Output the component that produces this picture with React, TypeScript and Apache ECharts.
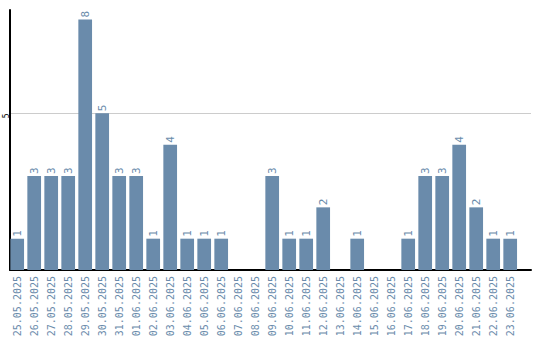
import React, { useEffect, useRef } from "react";
import * as echarts from "echarts";

const categories = [
  "25.05.2025", "26.05.2025", "27.05.2025", "28.05.2025", "29.05.2025", "30.05.2025",
  "31.05.2025", "01.06.2025", "02.06.2025", "03.06.2025", "04.06.2025", "05.06.2025",
  "06.06.2025", "07.06.2025", "08.06.2025", "09.06.2025", "10.06.2025", "11.06.2025",
  "12.06.2025", "13.06.2025", "14.06.2025", "15.06.2025", "16.06.2025", "17.06.2025",
  "18.06.2025", "19.06.2025", "20.06.2025", "21.06.2025", "22.06.2025", "23.06.2025",
];
const values = [1, 3, 3, 3, 8, 5, 3, 3, 1, 4, 1, 1, 1, 0, 0, 3, 1, 1, 2, 0, 1, 0, 0, 1, 3, 3, 4, 2, 1, 1];
const yMax = 8.3;

const BLUE = "#6a8bab";
const FONT = "DejaVu Sans Mono";

export default function App() {
  const ref = useRef<HTMLDivElement>(null);
  useEffect(() => {
    const chart = echarts.init(ref.current!, null, { renderer: "svg" });
    chart.setOption({
      animation: false,
      grid: [
        { left: 10, right: 9, top: 10, bottom: 70, containLabel: false },
        { left: 8.7, right: 21.3, top: 10, bottom: 70, containLabel: false },
      ],
      xAxis: [
        {
          gridIndex: 0,
          type: "value",
          min: 0,
          max: 1,
          axisLine: { show: true, onZero: false, lineStyle: { color: "#000", width: 2 } },
          axisTick: { show: false },
          axisLabel: { show: false },
          splitLine: { show: false },
        },
        {
          gridIndex: 1,
          type: "category",
          data: categories,
          axisLine: { show: false },
          axisTick: { show: false },
          axisLabel: {
            rotate: 90,
            interval: 0,
            color: BLUE,
            fontSize: 10,
            fontFamily: FONT,
            margin: 6,
            hideOverlap: false,
            overflow: "none",
          },
        },
      ],
      yAxis: [
        {
          gridIndex: 0,
          type: "value",
          min: 0,
          max: yMax,
          interval: 5,
          axisLine: { show: true, lineStyle: { color: "#000", width: 2 } },
          axisTick: { show: false },
          splitLine: { show: true, showMaxLine: false, showMinLine: false, lineStyle: { color: "#cccccc", width: 1 } },
          axisLabel: {
            rotate: 90,
            color: "#000",
            fontSize: 8,
            fontFamily: FONT,
            margin: 4,
            align: "right",
            verticalAlign: "middle",
            showMaxLabel: false,
            showMinLabel: false,
          },
        },
        {
          gridIndex: 1,
          type: "value",
          min: 0,
          max: yMax,
          show: false,
        },
      ],
      series: [
        {
          type: "bar",
          xAxisIndex: 1,
          yAxisIndex: 1,
          data: values,
          barWidth: 13.7,
          itemStyle: { color: BLUE },
          label: {
            show: true,
            position: "top",
            rotate: 90,
            align: "left",
            verticalAlign: "middle",
            distance: 2,
            color: BLUE,
            fontSize: 11,
            fontFamily: FONT,
            formatter: (p: any) => (p.value === 0 ? "" : String(p.value)),
          },
        },
      ],
    });
    return () => chart.dispose();
  }, []);
  return <div ref={ref} style={{ position: "absolute", left: 0, top: 0, width: 540, height: 340 }} />;
}
